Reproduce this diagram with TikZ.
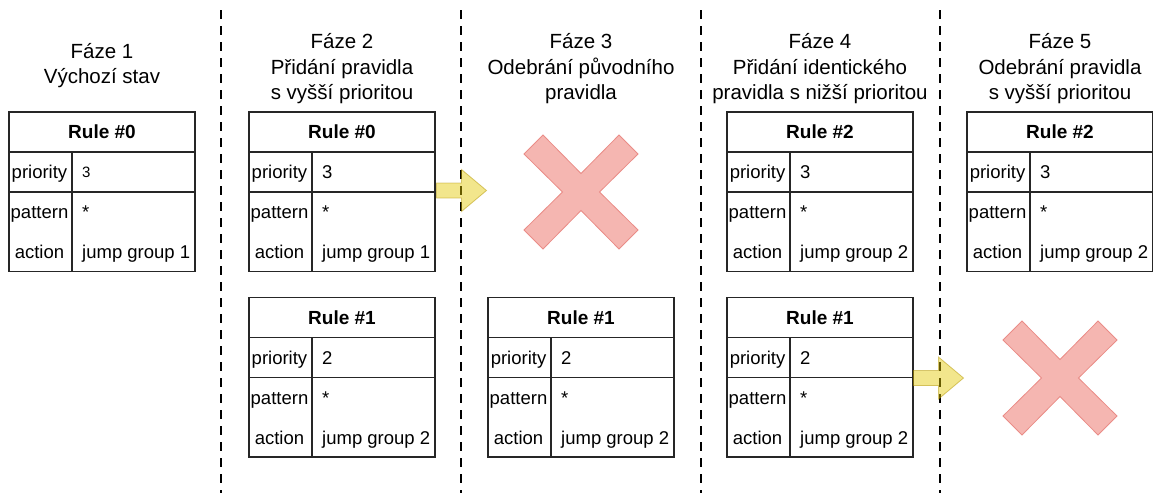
\documentclass[tikz,border=0pt]{standalone}
\usepackage{fontspec}
\setmainfont{Liberation Sans}
\begin{document}
\begin{tikzpicture}[x=1pt,y=-1pt,
  tbl/.style={draw=black!85, line width=1.2pt},
  hd/.style={font=\fontsize{20.5}{25.5}\selectfont, anchor=base, inner sep=0pt},
  ttl/.style={font=\bfseries\fontsize{19}{22}\selectfont, anchor=base, inner sep=0pt},
  lbl/.style={font=\fontsize{18.5}{22}\selectfont, anchor=base, inner sep=0pt},
  val/.style={font=\fontsize{18.5}{22}\selectfont, anchor=base west, inner sep=0pt},
  sep/.style={line width=2.7pt, dash pattern=on 8.5pt off 7.5pt},
  blockarrow/.style={fill={rgb,255:red,227;green,200;blue,0}, fill opacity=0.45,
    draw={rgb,255:red,180;green,150;blue,0}, draw opacity=0.5, line width=0.8pt, line join=miter},
  cross/.style={fill={rgb,255:red,245;green,182;blue,177},
    draw={rgb,255:red,234;green,140;blue,135}, line width=0.8pt, line join=miter},
  blockarr/.pic={\draw[blockarrow] (0,-7.5) -- (25,-7.5) -- (25,-21) -- (50,0)
      -- (25,21) -- (25,7.5) -- (0,7.5) -- cycle;},
  xmark/.pic={\draw[cross] (-18.5,0) -- (-57,-38) -- (-38,-57) -- (0,-18.5)
      -- (38,-57) -- (57,-38) -- (18.5,0) -- (57,38) -- (38,57) -- (0,18.5)
      -- (-38,57) -- (-57,38) -- cycle;}
]
\newcommand\ruletbl[6]{%
  \draw[tbl] (#2,#3) rectangle (#2+186,#3+159.5);
  \draw[tbl] (#2,#3+40) -- (#2+186,#3+40)
             (#2,#3+80) -- (#2+186,#3+80)
             (#2+63,#3+40) -- (#2+63,#3+159.5);
  \node[ttl] (#1-title) at (#2+93,#3+26.8) {#4};
  \node[lbl] (#1-pl) at (#2+30.5,#3+66.6) {priority};
  \node[val] (#1-pv) at (#2+73,#3+66.6) {#5};
  \node[lbl] (#1-tl) at (#2+30.5,#3+106.6) {pattern};
  \node[val] (#1-tv) at (#2+73,#3+106.6) {*};
  \node[lbl] (#1-al) at (#2+30.5,#3+146.6) {action};
  \node[val] (#1-av) at (#2+73,#3+146.6) {#6};
}
\useasboundingbox (0,0) rectangle (1153,493);
\fill[white] (0,0) rectangle (1153,493);

% phase separators
\foreach \sx in {221,461,701,940}
  \draw[sep] (\sx,10) -- (\sx,493);

% phase headings
\node[hd] (h1a) at (102,58.3) {Fáze 1};
\node[hd] (h1b) at (102,83.8) {Výchozí stav};
\node[hd] (h2a) at (342,48.5) {Fáze 2};
\node[hd] (h2b) at (342,74) {Přidání pravidla};
\node[hd] (h2c) at (342,99.5) {s vyšší prioritou};
\node[hd] (h3a) at (581,48.5) {Fáze 3};
\node[hd] (h3b) at (581,74) {Odebrání původního};
\node[hd] (h3c) at (581,99.5) {pravidla};
\node[hd] (h4a) at (820,48.5) {Fáze 4};
\node[hd] (h4b) at (820,74) {Přidání identického};
\node[hd] (h4c) at (820,99.5) {pravidla s nižší prioritou};
\node[hd] (h5a) at (1060,48.5) {Fáze 5};
\node[hd] (h5b) at (1060,74) {Odebrání pravidla};
\node[hd] (h5c) at (1060,99.5) {s vyšší prioritou};

% rule tables
\ruletbl{p1r0}{9}{112}{Rule \#0}{\raisebox{1pt}{\fontsize{15}{18}\selectfont 3}}{jump group 1}
\ruletbl{p2r0}{249}{112}{Rule \#0}{3}{jump group 1}
\ruletbl{p2r1}{249}{297.5}{Rule \#1}{2}{jump group 2}
\ruletbl{p3r1}{488}{297.5}{Rule \#1}{2}{jump group 2}
\ruletbl{p4r2}{727}{112}{Rule \#2}{3}{jump group 2}
\ruletbl{p4r1}{727}{297.5}{Rule \#1}{2}{jump group 2}
\ruletbl{p5r2}{967}{112}{Rule \#2}{3}{jump group 2}

% removal marks and transition arrows
\pic at (581,192) {xmark};
\pic at (1060,378) {xmark};
\pic at (436.5,190.5) {blockarr};
\pic at (913.5,378) {blockarr};
\end{tikzpicture}
\end{document}
